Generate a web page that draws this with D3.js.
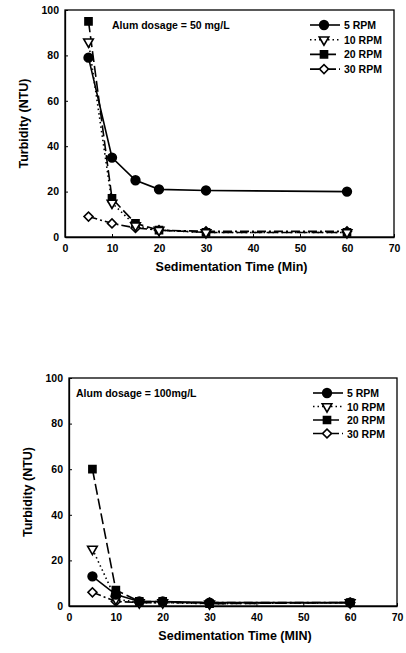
<!DOCTYPE html>
<html>
<head>
<meta charset="utf-8">
<script src="https://cdn.jsdelivr.net/npm/d3@7"></script>
<style>
  body { margin: 0; background: #fff; }
  svg text { font-family: "Liberation Sans", Arial, sans-serif; font-weight: bold; fill: #000; }
</style>
</head>
<body>
<div id="chart"></div>
<script>
// Sedimentation time (min)
var times = [5, 10, 15, 20, 30, 60];
var seriesNames = ["5 RPM", "10 RPM", "20 RPM", "30 RPM"];
var xTicks = [0, 10, 20, 30, 40, 50, 60, 70];
var yTicks = [0, 20, 40, 60, 80, 100];

// Alum dosage = 50 mg/L, turbidity (NTU)
var dose50_5rpm  = [79, 35, 25, 21, 20.5, 20];
var dose50_10rpm = [86, 15, 5, 3, 2, 2];
var dose50_20rpm = [95, 17, 6, 3, 2, 2];
var dose50_30rpm = [9, 6, 4, 3, 2.5, 2.5];

// Alum dosage = 100 mg/L, turbidity (NTU)
var dose100_5rpm  = [13, 5, 2, 2, 1.5, 1.5];
var dose100_10rpm = [25, 3, 1.5, 1.5, 1, 1.5];
var dose100_20rpm = [60, 7, 2, 2, 1, 1.5];
var dose100_30rpm = [6, 2, 1.5, 1.5, 1.5, 1.5];

var panels = [
  { note: "Alum dosage = 50 mg/L", xTitle: "Sedimentation Time (Min)",
    values: [dose50_5rpm, dose50_10rpm, dose50_20rpm, dose50_30rpm],
    left: 65, right: 394, top: 10, bottom: 237, noteX: 112, legY: 25, legStep: 14.7, legX: 310 },
  { note: "Alum dosage = 100mg/L", xTitle: "Sedimentation Time (MIN)",
    values: [dose100_5rpm, dose100_10rpm, dose100_20rpm, dose100_30rpm],
    left: 69, right: 397, top: 378, bottom: 606, noteX: 76, legY: 393, legStep: 13.5, legX: 313 }
];

// line dash + marker per series
var dashes = [null, "1.5,3", "11,4", "9,3,2,3"];
var symbols = [d3.symbolCircle, d3.symbolTriangle, d3.symbolSquare, d3.symbolSquare];
var symSizes = [60, 40, 50, 40];
var rotations = [0, 180, 0, 45];
var fills = ["#000", "#fff", "#000", "#fff"];

const svg = d3.select("#chart").append("svg")
  .attr("width", 406).attr("height", 653);

function marker(g, i, x, y) {
  g.append("path")
    .attr("d", d3.symbol().type(symbols[i]).size(symSizes[i]))
    .attr("transform", "translate(" + x + "," + y + ") rotate(" + rotations[i] + ")")
    .attr("fill", fills[i])
    .attr("stroke", "#000")
    .attr("stroke-width", 1.6);
}

panels.forEach(function(p) {
  var x = d3.scaleLinear().domain([0, 70]).range([p.left, p.right]);
  var y = d3.scaleLinear().domain([0, 100]).range([p.bottom, p.top]);
  var g = svg.append("g");

  // frame
  g.append("rect")
    .attr("x", p.left).attr("y", p.top)
    .attr("width", p.right - p.left).attr("height", p.bottom - p.top)
    .attr("fill", "none").attr("stroke", "#000").attr("stroke-width", 1.3);

  // axes with inward ticks
  var xAxis = g.append("g").attr("transform", "translate(0," + p.bottom + ")")
    .call(d3.axisBottom(x).tickValues(xTicks).tickSizeInner(-3).tickSizeOuter(0).tickPadding(8));
  var yAxis = g.append("g").attr("transform", "translate(" + p.left + ",0)")
    .call(d3.axisLeft(y).tickValues(yTicks).tickSizeInner(-3).tickSizeOuter(0).tickPadding(6));
  [xAxis, yAxis].forEach(function(a) {
    a.select(".domain").attr("stroke", "#000").attr("stroke-width", 1.3);
    a.selectAll("line").attr("stroke", "#000");
    a.selectAll("text").style("font-size", "10.5px").style("font-family", "Liberation Sans, Arial, sans-serif").style("font-weight", "bold");
  });

  // lines and markers
  var line = d3.line()
    .x(function(d, j) { return x(times[j]); })
    .y(function(d) { return y(d); });

  p.values.forEach(function(vals, i) {
    g.append("path")
      .datum(vals)
      .attr("d", line)
      .attr("fill", "none")
      .attr("stroke", "#000")
      .attr("stroke-width", 1.6)
      .attr("stroke-dasharray", dashes[i]);
  });
  p.values.slice().reverse().forEach(function(vals, k) {
    var i = p.values.length - 1 - k;
    vals.forEach(function(v, j) { marker(g, i, x(times[j]), y(v)); });
  });

  // note
  g.append("text").attr("x", p.noteX).attr("y", p.legY + 4)
    .style("font-size", "10.5px").text(p.note);

  // legend
  seriesNames.forEach(function(name, i) {
    var ly = p.legY + i * p.legStep;
    g.append("line")
      .attr("x1", p.legX).attr("x2", p.legX + 30)
      .attr("y1", ly).attr("y2", ly)
      .attr("stroke", "#000").attr("stroke-width", 1.6)
      .attr("stroke-dasharray", dashes[i]);
    marker(g, i, p.legX + 14, ly);
    g.append("text").attr("x", p.legX + 34).attr("y", ly + 4)
      .style("font-size", "10.5px").text(name);
  });

  // axis titles
  g.append("text")
    .attr("x", (p.left + p.right) / 2 + 2).attr("y", p.bottom + 34)
    .attr("text-anchor", "middle").style("font-size", "12.5px")
    .text(p.xTitle);
  g.append("text")
    .attr("transform", "translate(" + (p.left - 37) + "," + ((p.top + p.bottom) / 2) + ") rotate(-90)")
    .attr("text-anchor", "middle").style("font-size", "12.5px")
    .text("Turbidity (NTU)");
});
</script>
</body>
</html>
